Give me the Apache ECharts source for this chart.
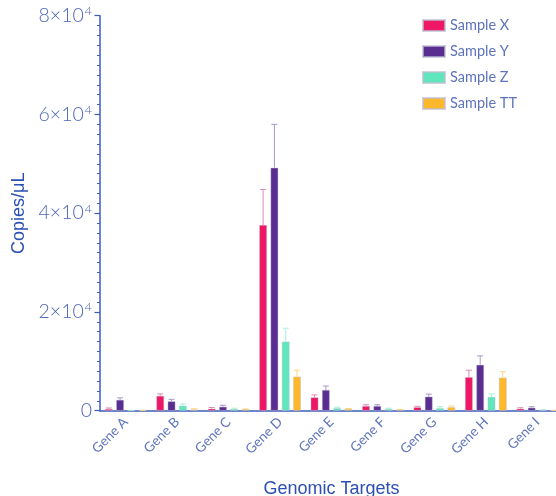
<!DOCTYPE html>
<html><head><meta charset="utf-8">
<script src="https://cdn.jsdelivr.net/npm/echarts@6/dist/echarts.min.js"></script>
<style>html,body{margin:0;padding:0;background:#fff}#c{width:556px;height:496px}</style>
</head><body><div id="c"></div>
<script>
const categories = ['Gene A','Gene B','Gene C','Gene D','Gene E','Gene F','Gene G','Gene H','Gene I'];
const seriesNames = ['Sample X','Sample Y','Sample Z','Sample TT'];
const sampleX = [350, 3000, 400, 37600, 2700, 950, 700, 6800, 400];
const sampleY = [2200, 1900, 800, 49200, 4200, 950, 2850, 9300, 600];
const sampleZ = [60, 1000, 350, 14000, 500, 350, 500, 2800, 100];
const sampleTT = [60, 250, 300, 6900, 350, 200, 700, 6700, 50];
const errX = [200, 400, 250, 7200, 500, 250, 200, 1400, 200];
const errY = [400, 400, 300, 8800, 800, 250, 500, 1800, 200];
const errZ = [30, 350, 150, 2700, 200, 150, 300, 600, 100];
const errTT = [30, 150, 50, 1300, 100, 50, 250, 1200, 30];
const yTicks = [0, 20000, 40000, 60000, 80000];

const colors = ['#EE1766', '#5A2D91', '#60E6BC', '#FDB92B'];
const errColors = ['#DD8CB2', '#A996C6', '#A8F0D8', '#FCD67E'];
const values = [sampleX, sampleY, sampleZ, sampleTT];
const errs = [errX, errY, errZ, errTT];

const BW = 7.7, PITCH = 11.3;
const series = [];
values.forEach((vals, s) => {
  series.push({
    name: seriesNames[s], type: 'bar', data: vals, barWidth: BW, barGap: ((PITCH - BW) / BW * 100).toFixed(1) + '%',
    itemStyle: { color: colors[s], borderColor: 'rgba(190,190,210,0.7)', borderWidth: 0.6 }, z: 2
  });
});
values.forEach((vals, s) => {
  const offset = (s - 1.5) * PITCH;
  series.push({
    type: 'custom', name: seriesNames[s] + ' err', z: 3, silent: true,
    data: vals.map((v, i) => [i, v, v + errs[s][i]]),
    renderItem: function (params, api) {
      const i = api.value(0);
      const b = api.coord([i, api.value(1)]);
      const t = api.coord([i, api.value(2)]);
      const x = b[0] + offset;
      return { type: 'group', children: [
        { type: 'line', shape: { x1: x, y1: b[1], x2: x, y2: t[1] }, style: { stroke: errColors[s], lineWidth: 1 } },
        { type: 'line', shape: { x1: x - 3, y1: t[1], x2: x + 3, y2: t[1] }, style: { stroke: errColors[s], lineWidth: 1 } }
      ]};
    }
  });
});

const axisBlue = '#3D5DBA';
const labelBlue = '#5E74BB';
const thinBlue = '#4D66B8';
const chart = echarts.init(document.getElementById('c'));
chart.setOption({
  animation: false,
  textStyle: { fontFamily: 'Lato' },
  grid: { left: 100, top: 15.7, width: 463, bottom: 85.3, containLabel: false, outerBoundsMode: 'none' },
  legend: {
    data: seriesNames, orient: 'vertical', left: 417, top: 13, itemWidth: 22, itemHeight: 11, itemGap: 11,
    icon: 'rect', textStyle: { color: labelBlue, fontSize: 14.5, fontFamily: 'Lato' }
  },
  xAxis: {
    type: 'category', data: categories, boundaryGap: true,
    name: 'Genomic Targets', nameLocation: 'middle', nameGap: 69,
    nameTextStyle: { color: '#2B4FB3', fontSize: 18, fontFamily: 'Liberation Sans' },
    axisLine: { lineStyle: { color: axisBlue, width: 1.5 } },
    axisTick: { alignWithLabel: true, length: 5, lineStyle: { color: axisBlue, width: 1.2 } },
    axisLabel: { rotate: 45, color: labelBlue, fontSize: 13.5, margin: 9, interval: 0 }
  },
  yAxis: {
    type: 'value', min: 0, max: 80000, interval: 20000,
    name: 'Copies/μL', nameLocation: 'middle', nameGap: 72, nameRotate: 90,
    nameTextStyle: { color: '#2B4FB3', fontSize: 18, fontFamily: 'Liberation Sans' },
    axisLine: { show: true, lineStyle: { color: axisBlue, width: 1.5 } },
    axisTick: { show: true, length: 5.5, lineStyle: { color: axisBlue, width: 1.2 } },
    minorTick: { show: true, splitNumber: 10, length: 3, lineStyle: { color: axisBlue, width: 1 } },
    splitLine: { show: false },
    axisLabel: {
      margin: 8,
      formatter: function (v) {
        if (yTicks.indexOf(v) < 0) return '';
        if (v === 0) return '{b|0}';
        return '{b|' + (v / 10000) + '×10}{s|4}';
      },
      rich: {
        b: { color: thinBlue, fontSize: 19.5, fontFamily: 'Lato', fontWeight: 300, lineHeight: 22 },
        s: { color: thinBlue, fontSize: 12.5, fontFamily: 'Lato', fontWeight: 300, verticalAlign: 'top', lineHeight: 22, padding: [0, 0, 7, 1] }
      }
    }
  },
  series: series
});
</script></body></html>
